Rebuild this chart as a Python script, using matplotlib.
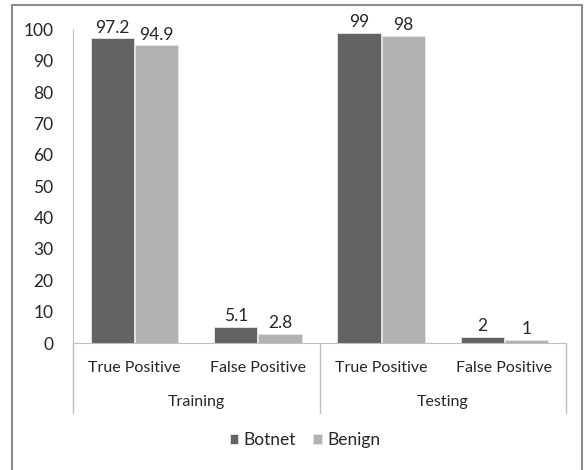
import numpy as np
import matplotlib
matplotlib.use("Agg")
import matplotlib.pyplot as plt
from matplotlib.patches import Rectangle
from matplotlib.lines import Line2D

plt.rcParams['font.family'] = ['Lato', 'DejaVu Sans']

# data
categories = ["True Positive", "False Positive", "True Positive", "False Positive"]
groups = ["Training", "Testing"]
botnet = [97.2, 5.1, 99, 2]
benign = [94.9, 2.8, 98, 1]
series_names = ["Botnet", "Benign"]
yticks = [0, 10, 20, 30, 40, 50, 60, 70, 80, 90, 100]

W, H = 586, 470
fig = plt.figure(figsize=(W / 100, H / 100), dpi=100)

# outer chart border (bottom edge falls just outside the picture)
fig.patches.append(Rectangle((12 / W, -2 / H), 570 / W, 467 / H,
                             transform=fig.transFigure, fill=False,
                             edgecolor='#8c8c8c', linewidth=1.5))

ax_l, ax_r, ax_b, ax_t = 73, 566, 343, 29.5
ax = fig.add_axes([ax_l / W, 1 - ax_b / H, (ax_r - ax_l) / W, (ax_b - ax_t) / H])

x = np.arange(len(categories))
bw = 0.35
c_bot, c_ben = '#636363', '#b2b2b2'
b1 = ax.bar(x - bw / 2 - 0.005, botnet, bw, color=c_bot, edgecolor='#e6e6e6', linewidth=0.6)
b2 = ax.bar(x + bw / 2 + 0.005, benign, bw, color=c_ben, edgecolor='#e6e6e6', linewidth=0.6)

for bars, vals in ((b1, botnet), (b2, benign)):
    for r, v in zip(bars, vals):
        ax.annotate(f"{v:g}", (r.get_x() + r.get_width() / 2, v),
                    xytext=(0, 2), textcoords='offset points',
                    ha='center', va='bottom', fontsize=12.5, color='#262626')

ax.set_xlim(-0.5, len(categories) - 0.5)
ax.set_ylim(0, 100)
ax.set_yticks(yticks)
ax.tick_params(axis='y', length=0, labelsize=12.5, labelcolor='#262626', pad=14)
ax.set_xticks([])
for s in ('top', 'right'):
    ax.spines[s].set_visible(False)
ax.spines['left'].set_color('#bfbfbf')
ax.spines['bottom'].set_color('#bfbfbf')

# category axis with group labels
tr = ax.get_xaxis_transform()
for i, c in enumerate(categories):
    ax.text(i, -25 / 313.5, c, transform=tr, ha='center', va='center',
            fontsize=11.5, color='#262626')
for g, name in enumerate(groups):
    ax.text(2 * g + 0.5, -59 / 313.5, name, transform=tr, ha='center', va='center',
            fontsize=11.5, color='#262626')
for xv in (-0.5, 1.5, 3.5):
    ax.add_line(Line2D([xv, xv], [0, -70 / 313.5], transform=tr, color='#bfbfbf',
                       linewidth=1, clip_on=False))

leg = fig.legend([b1, b2], series_names, loc='center', bbox_to_anchor=(305 / W, 1 - 440 / H),
                 ncol=2, frameon=False, fontsize=12.5, handlelength=0.5, handleheight=0.5,
                 handletextpad=0.3, columnspacing=1.0)
for t in leg.get_texts():
    t.set_color('#262626')

fig.savefig("out.png", dpi=100)
